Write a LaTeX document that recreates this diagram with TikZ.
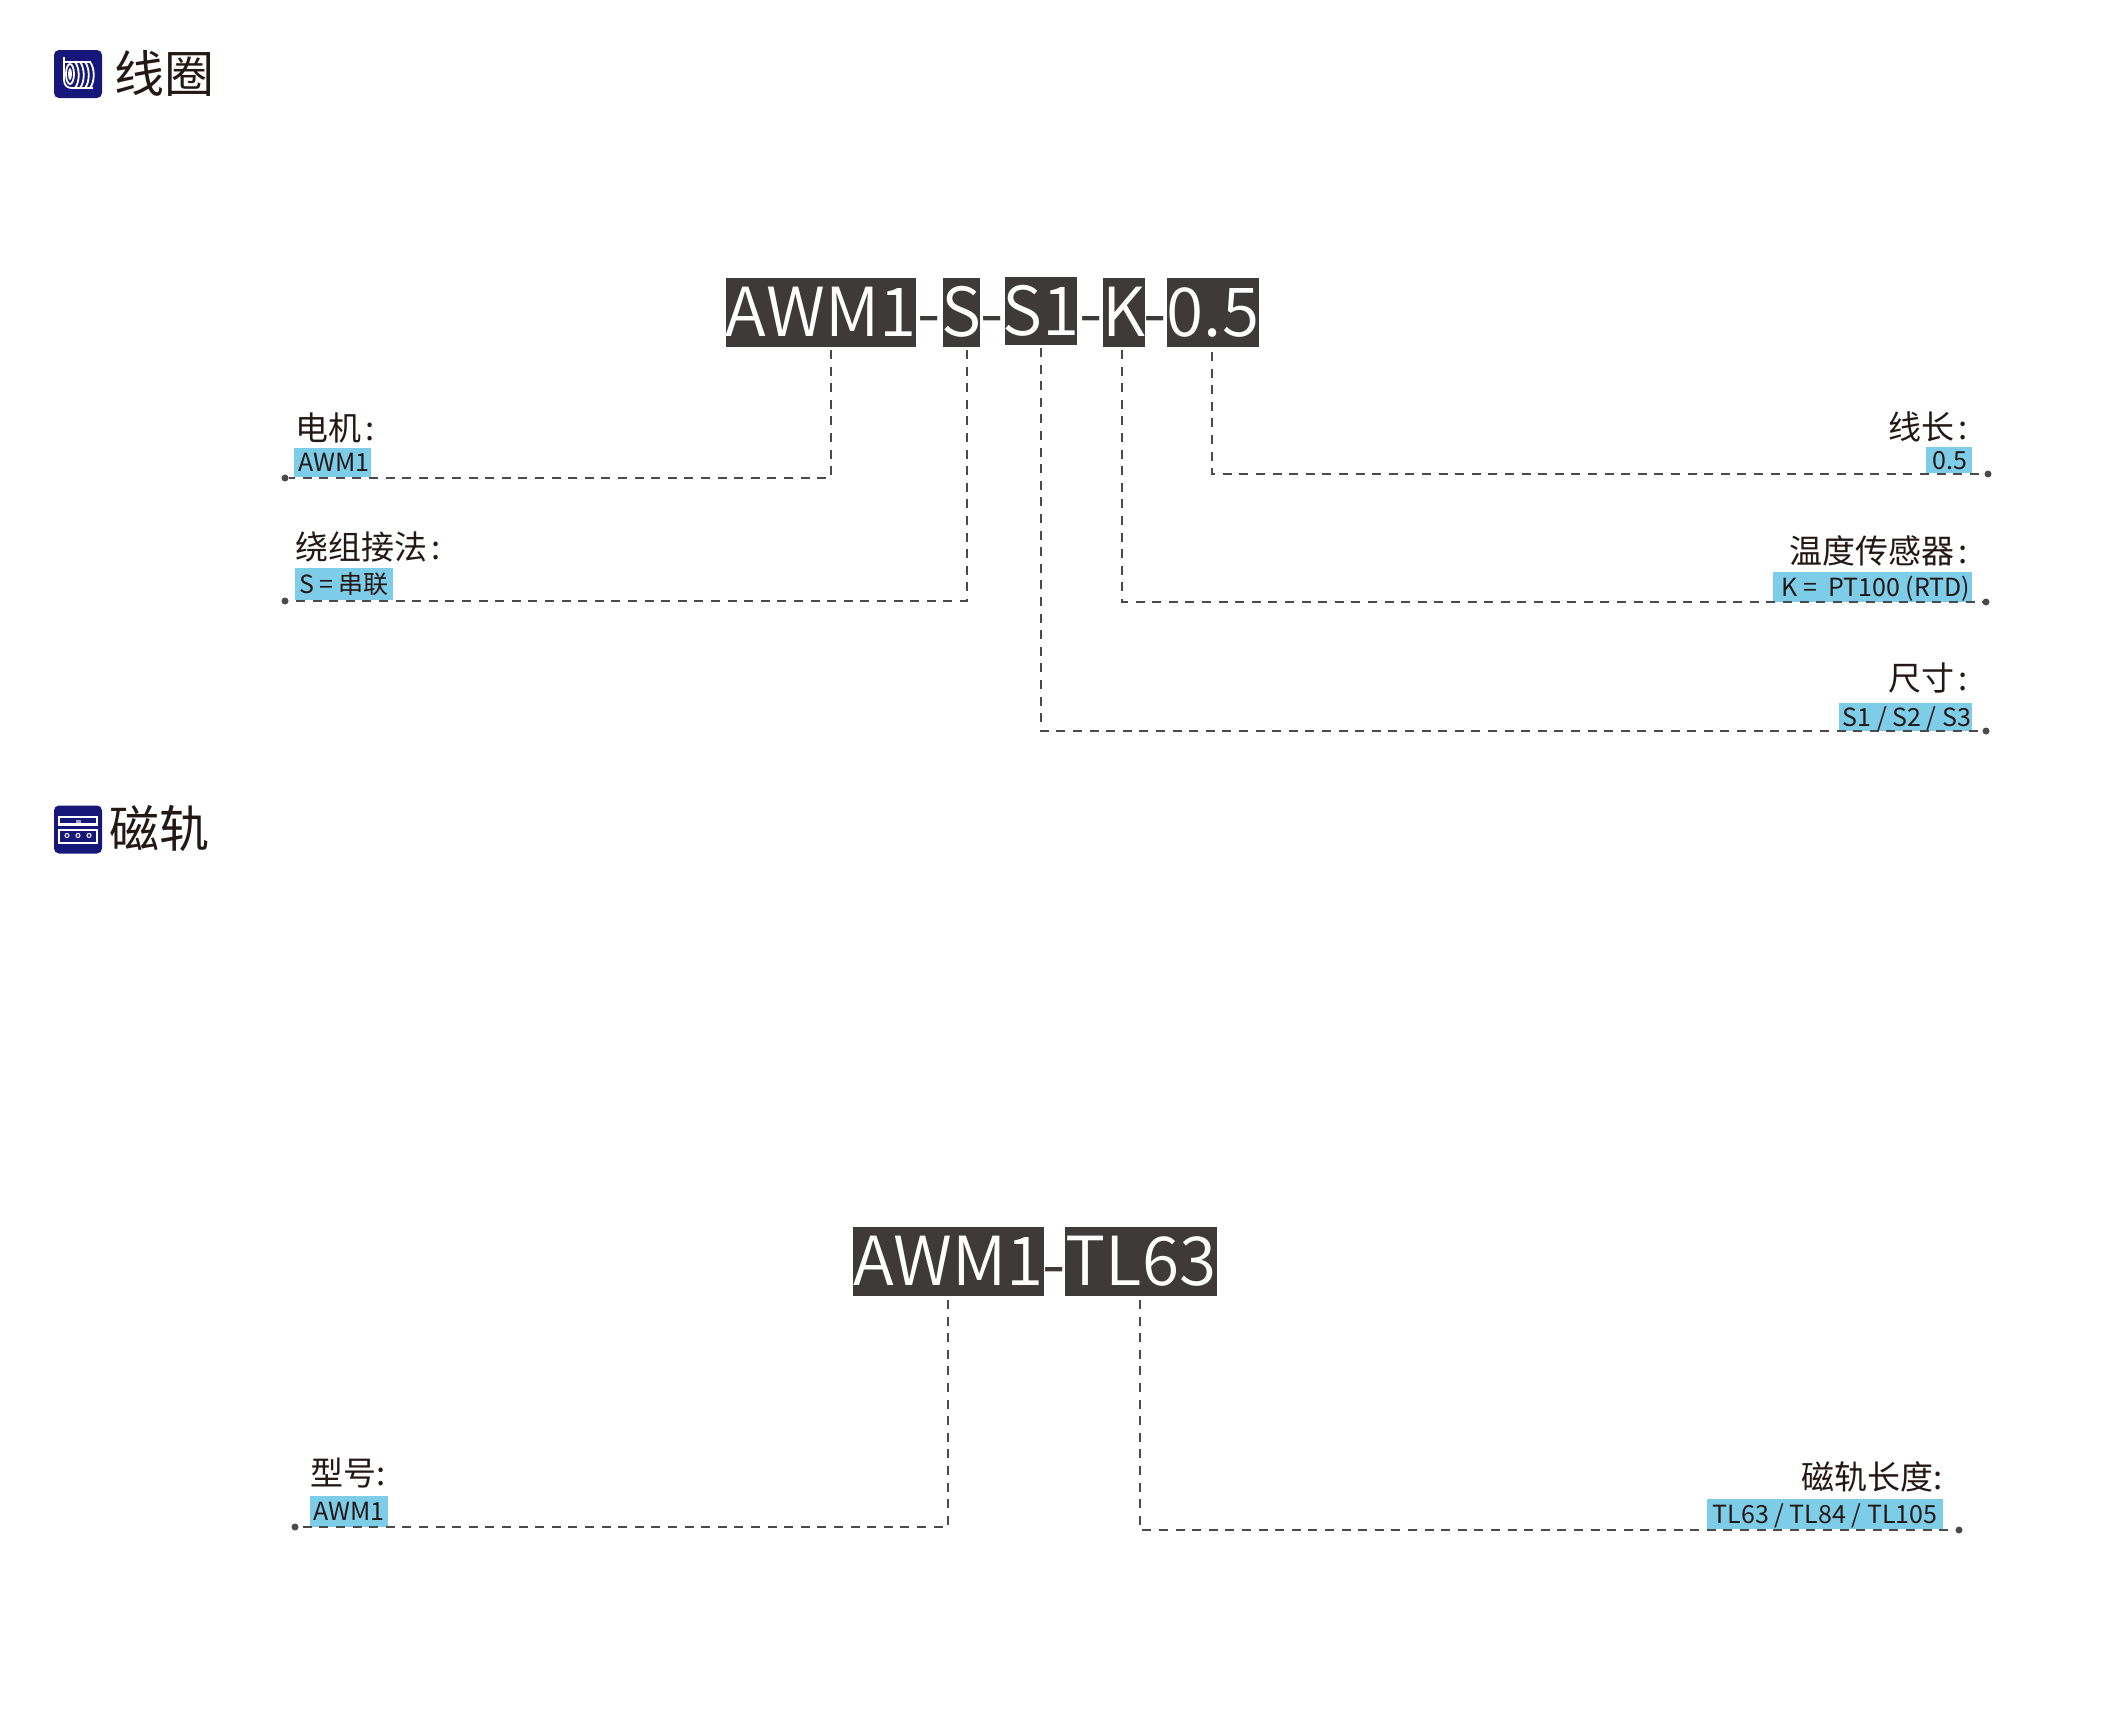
\documentclass[tikz,border=0pt]{standalone}
\usepackage{fontspec}
\setmainfont{Noto Sans CJK SC}
\newfontfamily\lightcjk{Noto Sans CJK SC DemiLight}
\definecolor{darkbox}{HTML}{3E3A39}
\definecolor{labelblue}{HTML}{7ECDE8}
\definecolor{navy}{HTML}{17177A}
\definecolor{inkc}{HTML}{231815}
\definecolor{linec}{HTML}{4A4A4A}
\tikzset{
 pagefont/.style={font=\fontsize{#1}{#1}\selectfont},
 lightfont/.style={font=\lightcjk\fontsize{#1}{#1}\selectfont},
 codebox/.style={fill=darkbox,text=white,inner sep=0pt,lightfont=67.5,text height=48pt,text depth=0pt,anchor=center},
 hyph/.style={text=darkbox,inner sep=0pt,lightfont=67.5},
 bluebox/.style={fill=labelblue,text=inkc,inner sep=0pt,pagefont=25,text height=18pt,text depth=0pt},
 captext/.style={text=inkc,inner sep=0pt,pagefont=33},
 head/.style={text=inkc,inner sep=0pt,pagefont=50},
 conn/.style={draw=linec,line width=2pt,dash pattern=on 9pt off 7.6pt},
 enddot/.style={circle,fill=linec,inner sep=0pt,minimum size=7pt},
 icon/.style={fill=navy,rounded corners=5pt},
 iconline/.style={draw=white,line width=1.8pt,fill=none}
}
\newcommand{\putbox}[7][bluebox]{% style, name, x0,y0,x1,y1, text
 \node[#1,minimum width=\dimexpr#5pt-#3pt\relax,minimum height=\dimexpr#6pt-#4pt\relax] (#2) at ({(#3+#5)/2},{(#4+#6)/2}) {\makebox[0pt]{#7}};}
\begin{document}
\begin{tikzpicture}[x=1pt,y=-1pt]
\useasboundingbox[fill=white] (0,0) rectangle (2128,1716);
% coil icon
\node[icon,minimum width=48pt,minimum height=48pt,inner sep=0pt] (ic1) at (78,74) {};
\draw[iconline] (64,57) -- (64,80) .. controls (64,86) and (68,88) .. (72,88) -- (93,88);
\draw[iconline] (64,62) -- (91,62);
\draw[iconline] (90,62) .. controls (95,68) and (95,82) .. (90,88);
\draw[iconline] (85,62) .. controls (90,68) and (90,82) .. (85,88);
\draw[iconline] (80,62) .. controls (85,68) and (85,82) .. (80,88);
\draw[iconline] (75,62) .. controls (80,68) and (80,82) .. (75,88);
\draw[iconline] (70,74) ellipse (4 and 10);
\draw[iconline] (70,74) ellipse (1 and 4.5);
\node[head,anchor=west] (h1) at (114,73) {线圈};
% rail icon
\node[icon,minimum width=48pt,minimum height=48pt,inner sep=0pt] (ic2) at (78,829.5) {};
\draw[iconline,line width=2.2pt] (59,817) rectangle (97,824.5);
\draw[iconline,line width=2.2pt] (59,830) -- (59,843) -- (97,843) -- (97,830) -- cycle;
\fill[white!60!navy] (75.5,819.5) rectangle (80.5,822.5);
\foreach \cx in {67,78,89}{\draw[white,fill=navy,line width=1pt] (\cx,835.5) circle (2);}
\node[head,anchor=west] (h2) at (109,829) {磁轨};
% top code
\putbox[codebox]{c1}{726}{278}{916}{347}{AWM1}
\putbox[codebox]{c2}{943}{278}{980}{347}{S}
\putbox[codebox]{c3}{1005}{277}{1077}{345}{S1}
\putbox[codebox]{c4}{1103}{278}{1145}{347}{K}
\putbox[codebox]{c5}{1167}{278}{1259}{347}{0.5}
\node[hyph] (m1) at (929.5,327) {-};
\node[hyph] (m2) at (992,327) {-};
\node[hyph] (m3) at (1091,327) {-};
\node[hyph] (m4) at (1155,327) {-};
% top labels
\putbox{b1}{294}{448}{371}{477}{\hspace{3pt}AWM1}
\putbox{b2}{295}{568}{393}{600}{S = 串联}
\putbox{b3}{1926}{447}{1972}{473}{\hspace{2pt}0.5}
\putbox{b4}{1773}{572}{1972}{602}{\hspace{7pt}K =\ \ PT100 (RTD)}
\putbox{b5}{1839}{703}{1972}{731}{\hspace{3pt}S1 / S2 / S3}
\node[captext,anchor=west] (t1) at (295,428) {电机\hspace{4pt}:};
\node[captext,anchor=west] (t2) at (295,547) {绕组接法\hspace{4pt}:};
\node[captext,anchor=east] (t3) at (1968,427) {线长\hspace{4pt}:};
\node[captext,anchor=east] (t4) at (1968,551) {温度传感器\hspace{4pt}:};
\node[captext,anchor=east] (t5) at (1968,678) {尺寸\hspace{4pt}:};
\node[enddot] (d1) at (285,478) {};
\node[enddot] (d2) at (285,601) {};
\node[enddot] (d3) at (1988,474) {};
\node[enddot] (d4) at (1986,602) {};
\node[enddot] (d5) at (1986,731) {};
\coordinate (p1) at (831,350);
\coordinate (p2) at (967,350);
\coordinate (p3) at (1041,348);
\coordinate (p4) at (1122,350);
\coordinate (p5) at (1212,352);
\draw[conn] (p1) |- (d1);
\draw[conn] (p2) |- (d2);
\draw[conn] (p3) |- (d5);
\draw[conn] (p4) |- (d4);
\draw[conn] (p5) |- (d3);
% bottom code
\putbox[codebox]{c6}{853}{1227}{1044}{1296}{AWM1}
\putbox[codebox]{c7}{1065}{1227}{1217}{1296}{TL63}
\node[hyph] (m5) at (1054.5,1278) {-};
\putbox{b6}{310}{1496}{388}{1527}{AWM1}
\putbox{b7}{1707}{1499}{1943}{1529}{TL63 / TL84 / TL105}
\node[captext,anchor=west] (t6) at (310,1473) {型号:};
\node[captext,anchor=east] (t7) at (1943,1477) {磁轨长度:};
\node[enddot] (d6) at (295,1527) {};
\node[enddot] (d7) at (1959,1530) {};
\coordinate (p6) at (948,1300);
\coordinate (p7) at (1140,1300);
\draw[conn] (p6) |- (d6);
\draw[conn] (p7) |- (d7);
\end{tikzpicture}
\end{document}
